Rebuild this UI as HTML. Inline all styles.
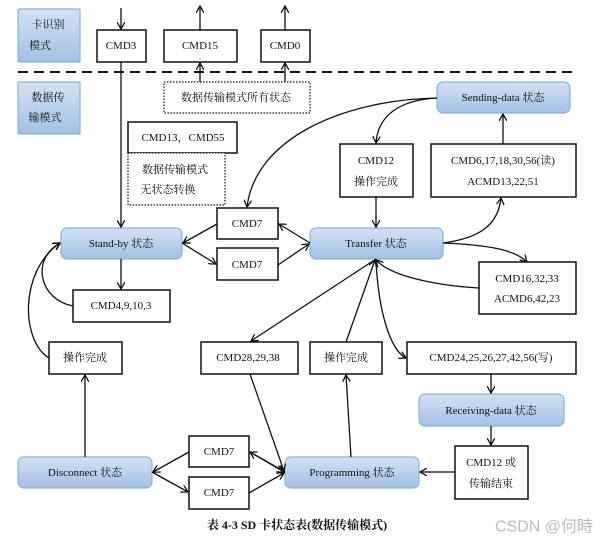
<!DOCTYPE html>
<html><head><meta charset="utf-8"><style>
body{margin:0;background:#fff}
svg{display:block}
text{font-family:"Liberation Serif","Noto Serif CJK SC",serif;font-size:11px;fill:#111;text-anchor:middle;dominant-baseline:central}
.b{fill:#fff;stroke:#111;stroke-width:1.5}
.d{fill:#fff;stroke:#111;stroke-width:1.2;stroke-dasharray:1.5 1.5}
.s{fill:url(#g);stroke:#8cb0dc;stroke-width:1.2}
.l{fill:none;stroke:#111;stroke-width:1.3}
</style></head><body>
<svg width="609" height="547" viewBox="0 0 609 547" xmlns="http://www.w3.org/2000/svg">
<defs>
<linearGradient id="g" x1="0" y1="0" x2="0" y2="1"><stop offset="0" stop-color="#d3e2f4"/><stop offset="1" stop-color="#a3c0e4"/></linearGradient>
<marker id="a" markerWidth="8" markerHeight="8" refX="7" refY="4" orient="auto" markerUnits="userSpaceOnUse"><path d="M0,0 L7,4 L0,8" fill="none" stroke="#111" stroke-width="1.3"/></marker>
</defs>
<!-- mode labels -->
<rect x="18" y="9" width="62" height="53" class="s" rx="1"/>
<text x="48" y="25">卡识别</text><text x="40" y="46">模式</text>
<rect x="18" y="82" width="62" height="52" class="s" rx="1"/>
<text x="48" y="98">数据传</text><text x="45" y="118">输模式</text>
<line x1="18" y1="72" x2="576" y2="72" stroke="#111" stroke-width="2" stroke-dasharray="10 6"/>
<!-- top boxes -->
<rect x="97" y="30" width="49" height="32" class="b"/><text x="121" y="46">CMD3</text>
<rect x="164" y="30" width="73" height="32" class="b"/><text x="200" y="46">CMD15</text>
<rect x="261" y="30" width="49" height="32" class="b"/><text x="285" y="46">CMD0</text>
<rect x="164" y="82" width="146" height="31" class="d"/><text x="236" y="98">数据传输模式所有状态</text>
<rect x="128" y="122" width="109" height="31" class="b"/><text x="183" y="138">CMD13，CMD55</text>
<rect x="128" y="153" width="97" height="52" class="d"/><text x="175" y="170">数据传输模式</text><text x="168" y="190">无状态转换</text>
<rect x="437" y="82" width="133" height="31" rx="6" class="s"/><text x="503" y="98">Sending-data 状态</text>
<rect x="340" y="144" width="73" height="53" class="b"/><text x="376" y="161">CMD12</text><text x="376" y="182">操作完成</text>
<rect x="431" y="144" width="145" height="53" class="b"/><text x="503" y="161">CMD6,17,18,30,56(读)</text><text x="503" y="182">ACMD13,22,51</text>
<rect x="217" y="208" width="61" height="31" class="b"/><text x="247" y="224">CMD7</text>
<rect x="217" y="248" width="61" height="32" class="b"/><text x="247" y="265">CMD7</text>
<rect x="61" y="228" width="121" height="31" rx="6" class="s"/><text x="121" y="244">Stand-by 状态</text>
<rect x="310" y="228" width="133" height="31" rx="6" class="s"/><text x="376" y="244">Transfer 状态</text>
<rect x="479" y="262" width="97" height="52" class="b"/><text x="527" y="279">CMD16,32,33</text><text x="527" y="299">ACMD6,42,23</text>
<rect x="73" y="290" width="97" height="32" class="b"/><text x="121" y="306">CMD4,9,10,3</text>
<rect x="49" y="342" width="73" height="32" class="b"/><text x="85" y="358">操作完成</text>
<rect x="201" y="342" width="97" height="32" class="b"/><text x="248" y="358">CMD28,29,38</text>
<rect x="310" y="342" width="72" height="32" class="b"/><text x="346" y="358">操作完成</text>
<rect x="407" y="342" width="169" height="32" class="b"/><text x="491" y="358">CMD24,25,26,27,42,56(写)</text>
<rect x="419" y="394" width="145" height="32" rx="6" class="s"/><text x="491" y="411">Receiving-data 状态</text>
<rect x="455" y="446" width="73" height="53" class="b"/><text x="491" y="463">CMD12 或</text><text x="491" y="484">传输结束</text>
<rect x="189" y="436" width="60" height="31" class="b"/><text x="219" y="452">CMD7</text>
<rect x="189" y="477" width="60" height="32" class="b"/><text x="219" y="493">CMD7</text>
<rect x="18" y="457" width="134" height="31" rx="6" class="s"/><text x="85" y="473">Disconnect 状态</text>
<rect x="285" y="457" width="134" height="31" rx="6" class="s"/><text x="352" y="473">Programming 状态</text>
<!-- connectors -->
<g class="l">
<line x1="121" y1="8" x2="121" y2="29" marker-end="url(#a)"/>
<line x1="200" y1="30" x2="200" y2="6" marker-end="url(#a)"/>
<line x1="285" y1="30" x2="285" y2="6" marker-end="url(#a)"/>
<line x1="200" y1="82" x2="200" y2="63" marker-end="url(#a)"/>
<line x1="285" y1="82" x2="285" y2="63" marker-end="url(#a)"/>
<line x1="121" y1="62" x2="121" y2="227" marker-end="url(#a)"/>
<line x1="121" y1="259" x2="121" y2="289" marker-end="url(#a)"/>
<path d="M73,306 C40,300 30,260 60,243" marker-end="url(#a)"/>
<path d="M49,358 C20,340 20,270 60,243" marker-end="url(#a)"/>
<line x1="217" y1="224" x2="183" y2="243" marker-end="url(#a)"/>
<line x1="182" y1="243" x2="216" y2="264" marker-end="url(#a)"/>
<line x1="310" y1="243" x2="279" y2="224" marker-end="url(#a)"/>
<line x1="278" y1="265" x2="309" y2="244" marker-end="url(#a)"/>
<path d="M437,98 C340,100 255,140 247,207" marker-end="url(#a)"/>
<path d="M437,98 C400,100 378,115 376,143" marker-end="url(#a)"/>
<line x1="376" y1="197" x2="376" y2="227" marker-end="url(#a)"/>
<path d="M443,243 C480,238 498,225 501,198" marker-end="url(#a)"/>
<line x1="503" y1="144" x2="503" y2="114" marker-end="url(#a)"/>
<path d="M443,243 C490,245 515,250 527,262" marker-end="url(#a)"/>
<path d="M479,288 C430,285 390,275 376,260" marker-end="url(#a)"/>
<line x1="376" y1="259" x2="251" y2="341" marker-end="url(#a)"/>
<line x1="346" y1="342" x2="375" y2="260" marker-end="url(#a)"/>
<path d="M376,259 C378,310 390,350 406,358" marker-end="url(#a)"/>
<line x1="491" y1="374" x2="491" y2="393" marker-end="url(#a)"/>
<line x1="491" y1="426" x2="491" y2="445" marker-end="url(#a)"/>
<line x1="455" y1="472" x2="420" y2="472" marker-end="url(#a)"/>
<line x1="351" y1="457" x2="346" y2="375" marker-end="url(#a)"/>
<line x1="250" y1="374" x2="284" y2="471" marker-end="url(#a)"/>
<line x1="285" y1="472" x2="250" y2="452" marker-end="url(#a)"/>
<line x1="250" y1="452" x2="284" y2="472" marker-end="url(#a)"/>
<line x1="249" y1="493" x2="284" y2="473" marker-end="url(#a)"/>
<line x1="189" y1="452" x2="153" y2="472" marker-end="url(#a)"/>
<line x1="152" y1="472" x2="188" y2="492" marker-end="url(#a)"/>
<line x1="85" y1="457" x2="85" y2="375" marker-end="url(#a)"/>
</g>
<text x="297" y="525" style="font-weight:bold;font-size:12px">表 4-3 SD 卡状态表(数据传输模式)</text>
<text x="544" y="527" style="font-family:'Liberation Sans','Noto Sans CJK SC',sans-serif;font-size:16px;fill:#bbb">CSDN @何時</text>
</svg>
</body></html>
